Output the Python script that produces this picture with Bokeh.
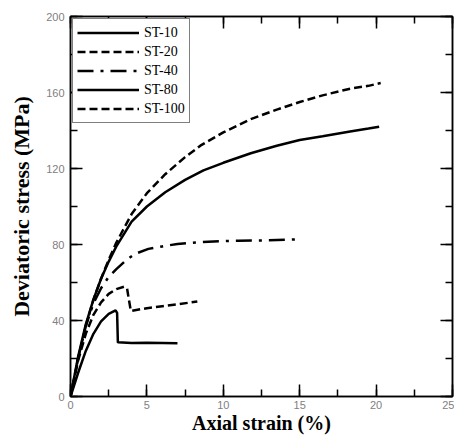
from bokeh.plotting import figure
from bokeh.models import LinearAxis, SingleIntervalTicker, Range1d, Legend, LegendItem
from bokeh.embed import file_html
from bokeh.resources import INLINE

# ---- data ----
st10_x = [0, 0.5, 1.0, 1.5, 2.0, 2.5, 2.95, 3.05, 3.1, 4, 5, 6, 7.0]
st10_y = [0, 12.5, 24, 33, 39.5, 43.5, 45.3, 44, 28.5, 28.2, 28.3, 28.2, 28.0]

st20_x = [0, 0.5, 1.0, 1.5, 2.0, 2.5, 3.0, 3.5, 3.7, 3.8, 3.95, 4.3, 5, 6, 7, 8.3]
st20_y = [0, 19, 33, 43, 49.5, 54, 56.5, 57.8, 57, 52, 45, 45.5, 46.5, 47.5, 48.5, 50]

st40_x = [0, 0.5, 1.0, 1.5, 2.0, 2.5, 3.0, 3.6, 4.2, 5.1, 6, 7, 8.4, 10, 11, 13, 15.1]
st40_y = [0, 20, 37, 49, 57, 63, 67, 71.5, 75, 77.7, 79, 80.3, 81.2, 81.8, 82, 82.2, 82.8]

st80_x = [0, 0.5, 1, 1.5, 2, 2.5, 3, 4, 5, 6.2, 7.5, 8.7, 10, 11.8, 13.5, 15, 16.5, 18.3, 19.5, 20.2]
st80_y = [0, 21, 38, 51, 62, 71, 79, 92, 100, 107.5, 114, 119, 123, 128, 132, 135, 137, 139.5, 141, 142]

st100_x = [0, 0.5, 1, 1.5, 2, 2.5, 3, 4, 5, 6.2, 7.5, 8.5, 10, 11.8, 13.5, 15, 16.5, 18.3, 19.5, 20.3]
st100_y = [0, 20, 37, 51, 62, 72, 81, 96, 107, 117, 126, 132, 139, 146, 151, 155, 158.5, 162, 163.5, 165]

series_names = ["ST-10", "ST-20", "ST-40", "ST-80", "ST-100"]
x_title = "Axial strain (%)"
y_title = "Deviatoric stress (MPa)"

p = figure(width=454, height=436, output_backend="svg", toolbar_location=None,
           x_range=Range1d(0, 25), y_range=Range1d(0, 200),
           min_border_left=70, min_border_right=2, min_border_top=16, min_border_bottom=40)
p.grid.visible = False
p.outline_line_color = "black"
p.outline_line_width = 1.5
p.background_fill_color = "white"
p.border_fill_color = "white"

p.xaxis.ticker = SingleIntervalTicker(interval=5, num_minor_ticks=2)
p.yaxis.ticker = SingleIntervalTicker(interval=40, num_minor_ticks=2)

def style_axis(ax, labels=True):
    ax.axis_line_color = "black"
    ax.axis_line_width = 1.5
    ax.major_tick_in = 12
    ax.major_tick_out = 0
    ax.minor_tick_in = 7
    ax.minor_tick_out = 0
    ax.major_tick_line_width = 1.5
    ax.minor_tick_line_width = 1.5
    ax.major_tick_line_color = "black"
    ax.minor_tick_line_color = "black"
    if labels:
        ax.major_label_text_font = "Liberation Sans"
        ax.major_label_text_font_size = "11px"
        ax.major_label_text_color = "#808080"
        ax.major_label_standoff = 6
    else:
        ax.major_label_text_font_size = "1px"
        ax.major_label_text_color = None
        ax.major_label_standoff = 0

style_axis(p.xaxis[0])
style_axis(p.yaxis[0])
p.xaxis.major_label_standoff = 4
p.xaxis.axis_label = x_title
p.yaxis.axis_label = y_title
for ax, size in ((p.xaxis[0], "20px"), (p.yaxis[0], "22px")):
    ax.axis_label_text_font = "Liberation Serif"
    ax.axis_label_text_font_style = "bold"
    ax.axis_label_text_font_size = size
    ax.axis_label_text_color = "black"
p.xaxis.axis_label_standoff = 0
p.yaxis.axis_label_standoff = 9

top_ax = LinearAxis(ticker=SingleIntervalTicker(interval=5, num_minor_ticks=2))
right_ax = LinearAxis(ticker=SingleIntervalTicker(interval=40, num_minor_ticks=2))
style_axis(top_ax, labels=False)
style_axis(right_ax, labels=False)
p.add_layout(top_ax, "above")
p.add_layout(right_ax, "right")

lw = 2.5
r10 = p.line(st10_x, st10_y, line_color="black", line_width=lw)
r20 = p.line(st20_x, st20_y, line_color="black", line_width=lw, line_dash="8 4")
r40 = p.line(st40_x, st40_y, line_color="black", line_width=lw, line_dash="16 7 3 7")
r80 = p.line(st80_x, st80_y, line_color="black", line_width=lw)
r100 = p.line(st100_x, st100_y, line_color="black", line_width=lw, line_dash="8 4")

legend = Legend(items=[LegendItem(label=n, renderers=[r]) for n, r in
                       zip(series_names, [r10, r20, r40, r80, r100])],
                location="top_left")
legend.label_text_font = "Liberation Serif"
legend.label_text_font_size = "14px"
legend.label_text_color = "black"
legend.glyph_width = 62
legend.glyph_height = 19
legend.label_height = 19
legend.label_standoff = 5
legend.spacing = 0
legend.padding = 4
legend.margin = 2
legend.border_line_color = "black"
legend.border_line_width = 1.5
legend.background_fill_alpha = 1
p.add_layout(legend)

open("out.html", "w").write(file_html(p, INLINE))
